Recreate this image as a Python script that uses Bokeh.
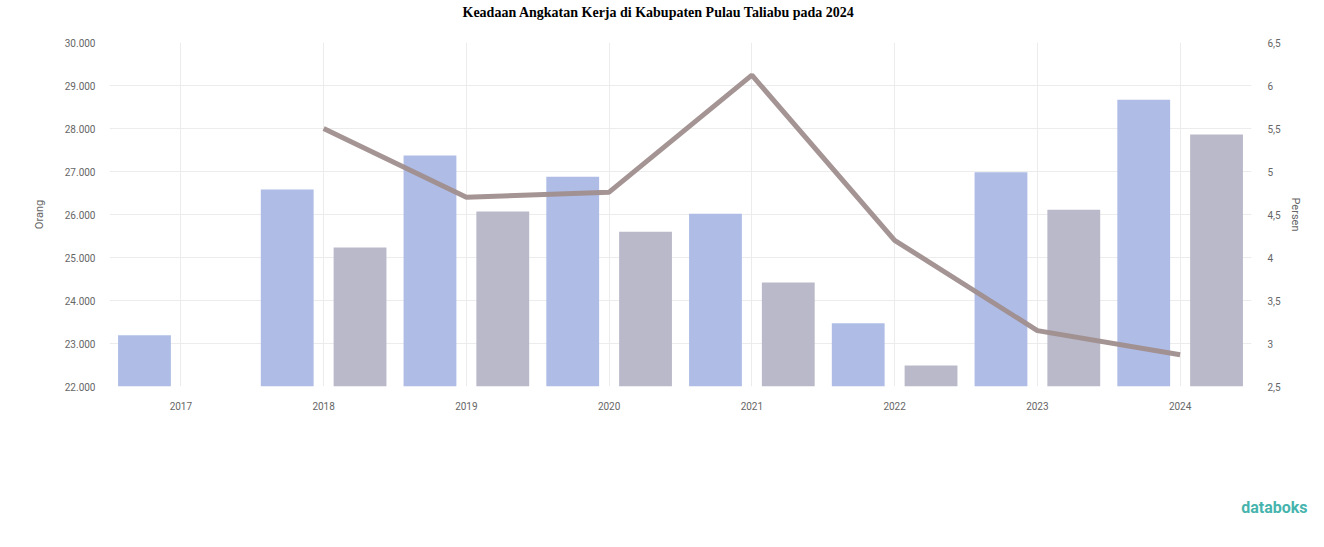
import numpy as np
from bokeh.plotting import figure
from bokeh.models import (ColumnDataSource, FactorRange, Range1d, LinearAxis,
                          FixedTicker, Title)
from bokeh.transform import dodge
from bokeh.embed import file_html
from bokeh.resources import INLINE

# ---- data ----
years = ["2017", "2018", "2019", "2020", "2021", "2022", "2023", "2024"]
angkatan_kerja = [23190, 26580, 27370, 26880, 26020, 23470, 26980, 28670]
bekerja = [np.nan, 25230, 26070, 25600, 24420, 22490, 26110, 27860]
tpt = [np.nan, 5.50, 4.70, 4.76, 6.12, 4.20, 3.15, 2.87]

left_ticks = [22000, 23000, 24000, 25000, 26000, 27000, 28000, 29000, 30000]
left_labels = ["22.000", "23.000", "24.000", "25.000", "26.000", "27.000", "28.000", "29.000", "30.000"]
right_ticks = [2.5, 3, 3.5, 4, 4.5, 5, 5.5, 6, 6.5]
right_labels = ["2,5", "3", "3,5", "4", "4,5", "5", "5,5", "6", "6,5"]

src = ColumnDataSource(dict(year=years, ak=angkatan_kerja, bk=bekerja, tpt=tpt))

p = figure(width=1308, height=531, x_range=FactorRange(*years, range_padding=0.0),
           y_range=Range1d(22000, 30000), output_backend="svg", toolbar_location=None,
           min_border_left=109, min_border_right=57, min_border_top=42, min_border_bottom=145)
p.extra_y_ranges = {"pct": Range1d(2.5, 6.5)}

p.title.text = "Keadaan Angkatan Kerja di Kabupaten Pulau Taliabu pada 2024\n"
p.title.align = "left"
p.title.offset = 353
p.title.text_font = "Liberation Serif"
p.title.text_font_size = "14px"
p.title.text_font_style = "bold"
p.title.text_color = "#000000"
p.title.text_line_height = 1.4
p.title.standoff = 4

p.outline_line_color = None
p.background_fill_color = "white"
p.border_fill_color = "white"

p.vbar(x=dodge("year", -0.255, range=p.x_range), top="ak", bottom=22000, width=0.37,
       source=src, color="#afbde6", line_color=None)
p.vbar(x=dodge("year", 0.255, range=p.x_range), top="bk", bottom=22000, width=0.37,
       source=src, color="#b9b9c9", line_color=None)
p.line(x="year", y="tpt", source=src, y_range_name="pct", line_width=5,
       line_color="#a08e8e", line_alpha=0.95)

# axes styling
for ax in [p.yaxis[0]]:
    ax.ticker = FixedTicker(ticks=left_ticks)
    ax.major_label_overrides = {t: l for t, l in zip(left_ticks, left_labels)}
    ax.axis_label = "Orang"

right = LinearAxis(y_range_name="pct", ticker=FixedTicker(ticks=right_ticks),
                   axis_label="Persen")
right.major_label_overrides = {t: l for t, l in zip(right_ticks, right_labels)}
p.add_layout(right, "right")

for ax in [p.xaxis[0], p.yaxis[0], right]:
    ax.axis_line_color = None
    ax.major_tick_line_color = None
    ax.minor_tick_line_color = None
    ax.major_label_text_color = "#666666"
    ax.major_label_text_font = "Roboto"
    ax.major_label_text_font_size = "10px"
    ax.axis_label_text_font_size = "11px"
    ax.axis_label_text_font_style = "normal"
    ax.axis_label_text_color = "#666666"
    ax.axis_label_text_font = "Roboto"
p.xaxis.major_label_standoff = 9
p.yaxis[0].major_label_standoff = 8
p.yaxis[0].axis_label_standoff = 16
right.major_label_standoff = 10

p.xgrid.grid_line_color = "#ececec"
p.ygrid.grid_line_color = "#ececec"
p.ygrid.ticker = FixedTicker(ticks=left_ticks)

logo = Title(text="\n\n\n\ndataboks", align="right", text_font="Roboto",
             text_font_size="16px", text_color="#46b4ad", text_font_style="bold",
             text_line_height=1.1, standoff=0, offset=-56)
p.add_layout(logo, "below")

open("out.html", "w").write(file_html(p, INLINE))
